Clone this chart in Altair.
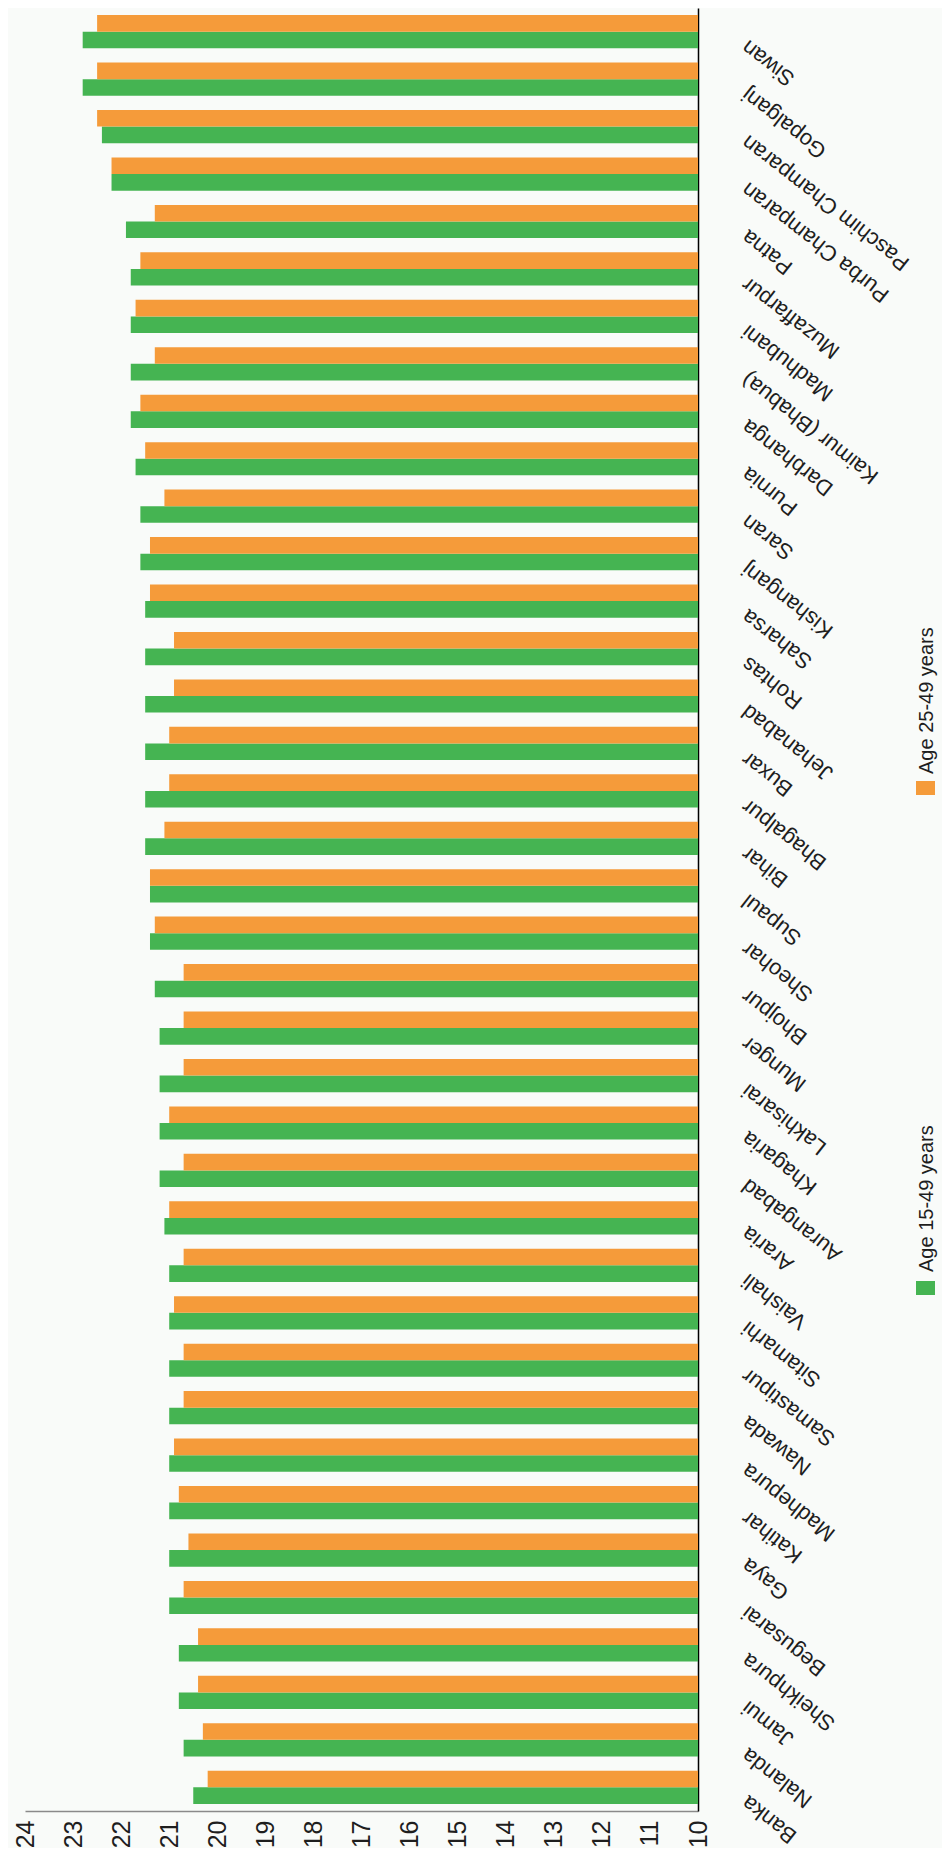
import altair as alt
import pandas as pd

districts = ["Siwan", "Gopalganj", "Paschim Champaran", "Purba Champaran", "Patna",
             "Muzaffarpur", "Madhubani", "Kaimur (Bhabua)", "Darbhanga", "Purnia",
             "Saran", "Kishanganj", "Saharsa", "Rohtas", "Jehanabad", "Buxar",
             "Bhagalpur", "Bihar", "Supaul", "Sheohar", "Bhojpur", "Munger",
             "Lakhisarai", "Khagaria", "Aurangabad", "Araria", "Vaishali",
             "Sitamarhi", "Samastipur", "Nawada", "Madhepura", "Katihar", "Gaya",
             "Begusarai", "Sheikhpura", "Jamui", "Nalanda", "Banka"]
age_15_49 = [22.8, 22.8, 22.4, 22.2, 21.9, 21.8, 21.8, 21.8, 21.8, 21.7, 21.6, 21.6,
             21.5, 21.5, 21.5, 21.5, 21.5, 21.5, 21.4, 21.4, 21.3, 21.2, 21.2, 21.2,
             21.2, 21.1, 21.0, 21.0, 21.0, 21.0, 21.0, 21.0, 21.0, 21.0, 20.8, 20.8,
             20.7, 20.5]
age_25_49 = [22.5, 22.5, 22.5, 22.2, 21.3, 21.6, 21.7, 21.3, 21.6, 21.5, 21.1, 21.4,
             21.4, 20.9, 20.9, 21.0, 21.0, 21.1, 21.4, 21.3, 20.7, 20.7, 20.7, 21.0,
             20.7, 21.0, 20.7, 20.9, 20.7, 20.7, 20.9, 20.8, 20.6, 20.7, 20.4, 20.4,
             20.3, 20.2]
series_names = ["Age 15-49 years", "Age 25-49 years"]
x_ticks = list(range(10, 25))

GREEN = "#45B452"
ORANGE = "#F59B3A"
TEXT = "#1e1e1e"
FONT = "Liberation Sans, Arial, sans-serif"

rows = []
for d, a, b in zip(districts, age_15_49, age_25_49):
    rows.append({"district": d, "series": series_names[0], "value": a})
    rows.append({"district": d, "series": series_names[1], "value": b})
df = pd.DataFrame(rows)

bars = alt.Chart(df).mark_bar().encode(
    y=alt.Y("district:N", sort=districts,
            scale=alt.Scale(paddingInner=0.3, paddingOuter=0.15),
            axis=alt.Axis(orient="right", title=None, domainColor="#000000",
                          domainWidth=1.5, ticks=False, grid=False,
                          labelAngle=218, labelAlign="right", labelBaseline="middle",
                          labelFont=FONT, labelFontSize=22, labelColor=TEXT,
                          labelPadding=46, labelOffset=13, labelOverlap=False,
                          labelBound=False, labelLimit=500)),
    yOffset=alt.YOffset("series:N", sort=[series_names[1], series_names[0]]),
    x=alt.X("value:Q",
            scale=alt.Scale(domain=[10, 24], reverse=True, zero=False, nice=False),
            axis=alt.Axis(orient="bottom", title=None, values=x_ticks, grid=False,
                          ticks=False, domainColor="#8a8a8a", domainWidth=1.5,
                          labelAngle=270, labelAlign="right", labelBaseline="middle",
                          labelFont=FONT, labelFontSize=25, labelColor=TEXT,
                          labelPadding=9, labelOverlap=False, labelFlush=False,
                          labelBound=False)),
    x2=alt.datum(10),
    color=alt.Color("series:N",
                    scale=alt.Scale(domain=series_names, range=[GREEN, ORANGE]),
                    legend=None),
)

leg_df = pd.DataFrame({"t": series_names})

def legend_item(name, color, sq_y, text_y):
    sq = alt.Chart(leg_df).transform_filter(alt.datum.t == name).mark_rect(color=color).encode(
        x=alt.value(891), x2=alt.value(910), y=alt.value(sq_y), y2=alt.value(sq_y + 14))
    tx = alt.Chart(leg_df).transform_filter(alt.datum.t == name).mark_text(
        angle=270, align="left", baseline="middle", font=FONT, fontSize=20,
        color=TEXT).encode(x=alt.value(902), y=alt.value(text_y), text="t:N")
    return [sq, tx]

layers = [bars] + legend_item(series_names[0], GREEN, 1273, 1264) + \
    legend_item(series_names[1], ORANGE, 773, 766)

chart = alt.layer(*layers).properties(
    width=673, height=1803,
    autosize=alt.AutoSizeParams(type="none"),
    padding={"left": 17, "top": 0, "right": 244, "bottom": 37},
    background="#F9FBF9",
).configure_view(stroke=None)

chart.save("out.html", embed_options={"renderer": "svg", "actions": False})
